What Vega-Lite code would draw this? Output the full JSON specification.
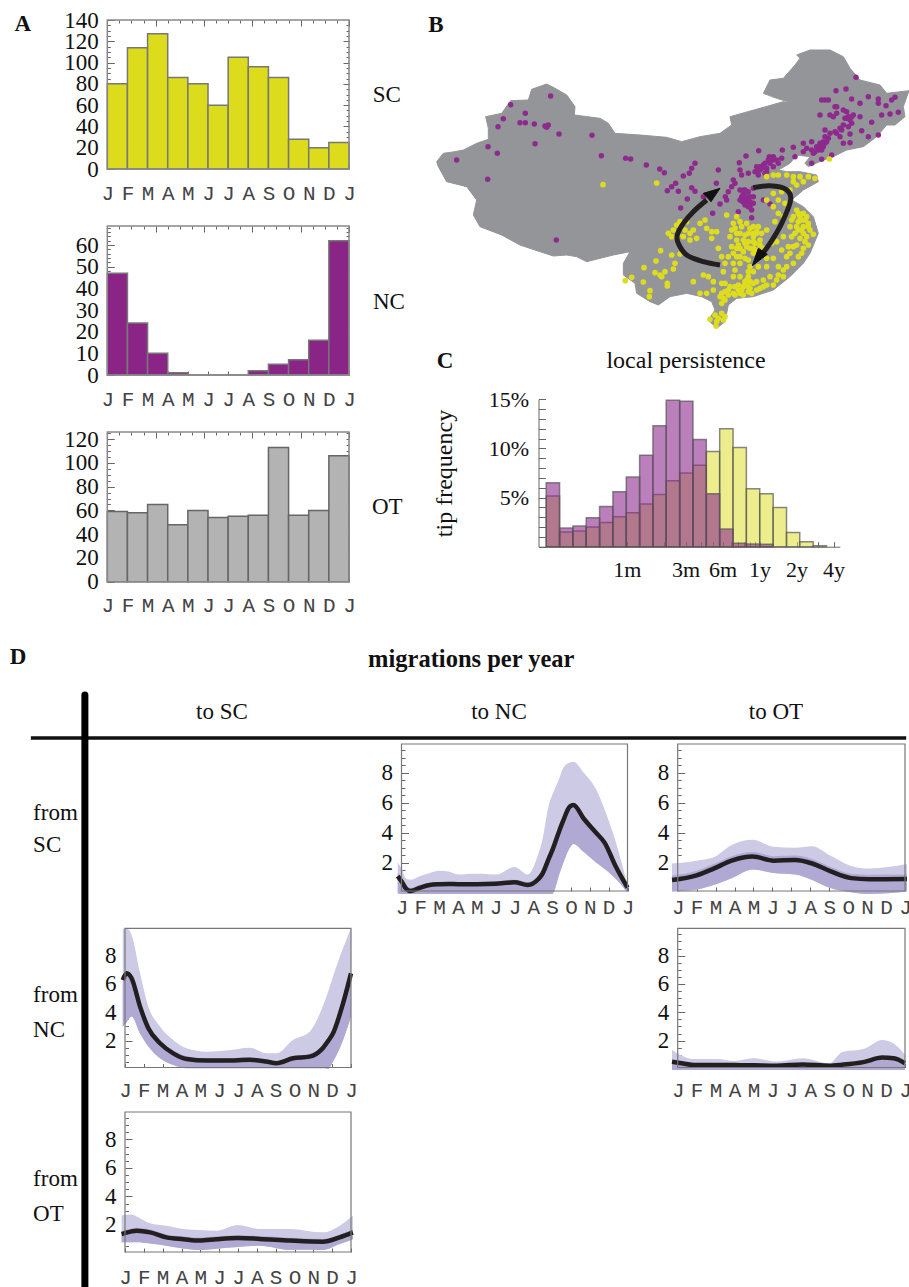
{"$schema":"https://vega.github.io/schema/vega-lite/v6.json","width":909,"height":1287,"autosize":{"type":"none"},"padding":0,"background":"white",
"config":{"view":{"stroke":null},"axis":{"grid":false,"labelOverlap":false,"labelColor":"#111","tickColor":"#666","domainColor":"#666","tickWidth":1},"axisX":{"labelFont":"Liberation Mono","labelFontSize":21,"labelColor":"#444","labelFlush":false,"labelPadding":17,"tickSize":-4,"domain":false},"axisY":{"labelFont":"Liberation Serif","labelFontSize":23,"labelPadding":16,"tickSize":-7,"domain":false,"labelFlush":false},"text":{"font":"Liberation Serif","fontSize":23,"color":"#111"}},
"resolve":{"scale":{"x":"independent","y":"independent"},"axis":{"x":"independent","y":"independent"}},
"datasets":{
"a_sc":[{"m0":0,"m1":1,"n":80},{"m0":1,"m1":2,"n":114},{"m0":2,"m1":3,"n":127},{"m0":3,"m1":4,"n":86},{"m0":4,"m1":5,"n":80},{"m0":5,"m1":6,"n":60},{"m0":6,"m1":7,"n":105},{"m0":7,"m1":8,"n":96},{"m0":8,"m1":9,"n":86},{"m0":9,"m1":10,"n":28},{"m0":10,"m1":11,"n":20},{"m0":11,"m1":12,"n":25}],
"a_nc":[{"m0":0,"m1":1,"n":47},{"m0":1,"m1":2,"n":24},{"m0":2,"m1":3,"n":10},{"m0":3,"m1":4,"n":1},{"m0":4,"m1":5,"n":0},{"m0":5,"m1":6,"n":0},{"m0":6,"m1":7,"n":0},{"m0":7,"m1":8,"n":2},{"m0":8,"m1":9,"n":5},{"m0":9,"m1":10,"n":7},{"m0":10,"m1":11,"n":16},{"m0":11,"m1":12,"n":62}],
"a_ot":[{"m0":0,"m1":1,"n":59},{"m0":1,"m1":2,"n":58},{"m0":2,"m1":3,"n":65},{"m0":3,"m1":4,"n":48},{"m0":4,"m1":5,"n":60},{"m0":5,"m1":6,"n":54},{"m0":6,"m1":7,"n":55},{"m0":7,"m1":8,"n":56},{"m0":8,"m1":9,"n":113},{"m0":9,"m1":10,"n":56},{"m0":10,"m1":11,"n":60},{"m0":11,"m1":12,"n":106}],
"frame_a1":[{"x0":0,"x1":12,"y0":0,"y1":140}],"frame_a2":[{"x0":0,"x1":12,"y0":0,"y1":68.8}],"frame_a3":[{"x0":0,"x1":12,"y0":0,"y1":126}],"frame_d":[{"x0":0,"x1":12,"y0":0.1,"y1":9.93}],
"pers_sc":[{"m0":0.2207,"m1":0.2834,"p":5.15},{"m0":0.2834,"m1":0.364,"p":1.5},{"m0":0.364,"m1":0.467,"p":1.6},{"m0":0.467,"m1":0.6,"p":2},{"m0":0.6,"m1":0.77,"p":2.45},{"m0":0.77,"m1":0.989,"p":3.05},{"m0":0.989,"m1":1.27,"p":3.45},{"m0":1.27,"m1":1.63,"p":4.35},{"m0":1.63,"m1":2.09,"p":5.3},{"m0":2.09,"m1":2.69,"p":6.7},{"m0":2.69,"m1":3.45,"p":7.5},{"m0":3.45,"m1":4.43,"p":8.3},{"m0":4.43,"m1":5.69,"p":9.7},{"m0":5.69,"m1":7.31,"p":12},{"m0":7.31,"m1":9.38,"p":10.1},{"m0":9.38,"m1":12.05,"p":5.9},{"m0":12.05,"m1":15.5,"p":5.4},{"m0":15.5,"m1":19.9,"p":4},{"m0":19.9,"m1":25.5,"p":1.45},{"m0":25.5,"m1":32.8,"p":0.5},{"m0":32.8,"m1":42.1,"p":0.1}],
"pers_nc":[{"m0":0.2207,"m1":0.2834,"p":6.5},{"m0":0.2834,"m1":0.364,"p":1.9},{"m0":0.364,"m1":0.467,"p":2.1},{"m0":0.467,"m1":0.6,"p":2.95},{"m0":0.6,"m1":0.77,"p":4.1},{"m0":0.77,"m1":0.989,"p":5.6},{"m0":0.989,"m1":1.27,"p":7.1},{"m0":1.27,"m1":1.63,"p":9.3},{"m0":1.63,"m1":2.09,"p":12.3},{"m0":2.09,"m1":2.69,"p":14.9},{"m0":2.69,"m1":3.45,"p":14.8},{"m0":3.45,"m1":4.43,"p":10.9},{"m0":4.43,"m1":5.69,"p":5.4},{"m0":5.69,"m1":7.31,"p":1.8},{"m0":7.31,"m1":9.38,"p":0.35},{"m0":9.38,"m1":12.05,"p":0.27},{"m0":12.05,"m1":15.5,"p":0.25}],
"sc_nc":[{"t":-0.2,"hi":2,"ih":1.3,"lo":-0.05,"v":1.1},{"t":0,"hi":1.6,"ih":1,"lo":-0.1,"v":0.75},{"t":0.25,"hi":0.9,"ih":0.5,"lo":-0.1,"v":0.25},{"t":0.5,"hi":0.85,"ih":0.3,"lo":-0.1,"v":0.1},{"t":1,"hi":1.1,"ih":0.5,"lo":-0.1,"v":0.33},{"t":1.5,"hi":1.3,"ih":0.65,"lo":-0.1,"v":0.5},{"t":2,"hi":1.45,"ih":0.7,"lo":-0.1,"v":0.55},{"t":2.5,"hi":1.4,"ih":0.7,"lo":-0.1,"v":0.57},{"t":3,"hi":1.2,"ih":0.7,"lo":-0.1,"v":0.55},{"t":4,"hi":1.25,"ih":0.7,"lo":-0.1,"v":0.55},{"t":5,"hi":1.2,"ih":0.75,"lo":-0.1,"v":0.58},{"t":6,"hi":1.7,"ih":0.85,"lo":-0.1,"v":0.68},{"t":6.7,"hi":1.2,"ih":0.7,"lo":-0.1,"v":0.5},{"t":7.27,"hi":2.6,"ih":1.1,"lo":-0.1,"v":0.9},{"t":7.46,"hi":3.4,"ih":1.4,"lo":-0.1,"v":1.2},{"t":7.83,"hi":5.9,"ih":2.5,"lo":-0.1,"v":2.3},{"t":8,"hi":6.5,"ih":3,"lo":-0.1,"v":2.8},{"t":8.4,"hi":7.7,"ih":4.4,"lo":1.3,"v":4.2},{"t":8.57,"hi":8.3,"ih":4.9,"lo":1.9,"v":4.75},{"t":8.94,"hi":8.7,"ih":5.85,"lo":3,"v":5.75},{"t":9.13,"hi":8.74,"ih":5.95,"lo":3.25,"v":5.85},{"t":9.68,"hi":8,"ih":5.05,"lo":2.7,"v":4.93},{"t":10.33,"hi":6.9,"ih":4.1,"lo":2,"v":4},{"t":10.8,"hi":5.5,"ih":3.4,"lo":1.55,"v":3.3},{"t":11.35,"hi":3.5,"ih":1.9,"lo":0.95,"v":1.8},{"t":12,"hi":0.5,"ih":0.4,"lo":0,"v":0.33}],
"sc_ot":[{"t":-0.3,"hi":1.94,"ih":1.14,"lo":0.07,"v":0.84},{"t":1,"hi":2.13,"ih":1.45,"lo":0.2,"v":1.15},{"t":1.9,"hi":2.36,"ih":1.9,"lo":0.5,"v":1.6},{"t":2.85,"hi":3.18,"ih":2.43,"lo":0.96,"v":2.13},{"t":3.96,"hi":3.53,"ih":2.7,"lo":1.54,"v":2.4},{"t":5.07,"hi":3.06,"ih":2.43,"lo":1.3,"v":2.13},{"t":6.2,"hi":3,"ih":2.47,"lo":1.2,"v":2.17},{"t":7.1,"hi":3.1,"ih":2.24,"lo":0.84,"v":1.94},{"t":8.05,"hi":2.48,"ih":1.73,"lo":0.3,"v":1.43},{"t":9.16,"hi":1.78,"ih":1.26,"lo":0.02,"v":0.96},{"t":10.1,"hi":1.6,"ih":1.19,"lo":-0.1,"v":0.89},{"t":12.1,"hi":1.9,"ih":1.2,"lo":0.07,"v":0.9}],
"nc_sc":[{"t":-0.12,"hi":9.9,"ih":6.4,"lo":3,"v":6.28},{"t":0.09,"hi":9.93,"ih":6.9,"lo":3.3,"v":6.75},{"t":0.35,"hi":9.46,"ih":6.6,"lo":3.7,"v":6.4},{"t":0.8,"hi":6.75,"ih":4.6,"lo":2.5,"v":4.4},{"t":1.24,"hi":4.4,"ih":3.1,"lo":1.58,"v":2.87},{"t":1.86,"hi":3,"ih":2,"lo":0.75,"v":1.81},{"t":2.56,"hi":2.05,"ih":1.3,"lo":0.28,"v":1.1},{"t":3.27,"hi":1.46,"ih":0.9,"lo":0.05,"v":0.7},{"t":4.33,"hi":1.22,"ih":0.75,"lo":0.05,"v":0.59},{"t":5.39,"hi":1.3,"ih":0.75,"lo":0.05,"v":0.59},{"t":6.63,"hi":1.5,"ih":0.8,"lo":0.05,"v":0.64},{"t":7.5,"hi":1.1,"ih":0.65,"lo":0.05,"v":0.52},{"t":8.04,"hi":1.1,"ih":0.55,"lo":0.05,"v":0.4},{"t":8.92,"hi":2.05,"ih":0.9,"lo":0.05,"v":0.75},{"t":9.8,"hi":2.63,"ih":1.05,"lo":0.05,"v":0.87},{"t":10.5,"hi":4.4,"ih":1.7,"lo":0.05,"v":1.46},{"t":10.8,"hi":5.5,"ih":2.2,"lo":0,"v":2},{"t":11.04,"hi":6.5,"ih":2.7,"lo":0.5,"v":2.5},{"t":11.57,"hi":8.5,"ih":4.8,"lo":2,"v":4.6},{"t":12,"hi":9.93,"ih":6.9,"lo":3.7,"v":6.75}],
"nc_ot":[{"t":-0.3,"hi":1.34,"ih":0.6,"lo":-0.07,"v":0.5},{"t":0.12,"hi":1,"ih":0.5,"lo":-0.07,"v":0.42},{"t":0.83,"hi":0.7,"ih":0.38,"lo":-0.07,"v":0.28},{"t":2.1,"hi":0.7,"ih":0.38,"lo":-0.07,"v":0.28},{"t":3,"hi":0.56,"ih":0.38,"lo":-0.07,"v":0.27},{"t":4,"hi":0.75,"ih":0.36,"lo":-0.07,"v":0.26},{"t":5.2,"hi":0.52,"ih":0.33,"lo":-0.07,"v":0.23},{"t":6.6,"hi":0.75,"ih":0.42,"lo":-0.07,"v":0.32},{"t":8,"hi":0.4,"ih":0.33,"lo":-0.07,"v":0.23},{"t":8.7,"hi":1.2,"ih":0.4,"lo":-0.07,"v":0.3},{"t":9.8,"hi":1.4,"ih":0.58,"lo":-0.07,"v":0.48},{"t":10.8,"hi":2.05,"ih":0.9,"lo":-0.07,"v":0.8},{"t":11.4,"hi":1.8,"ih":0.85,"lo":-0.07,"v":0.75},{"t":12,"hi":1,"ih":0.5,"lo":-0.07,"v":0.4}],
"ot_sc":[{"t":-0.18,"hi":2.66,"ih":1.56,"lo":0.78,"v":1.36},{"t":0.35,"hi":2.73,"ih":1.75,"lo":0.78,"v":1.55},{"t":0.62,"hi":2.6,"ih":1.8,"lo":0.78,"v":1.6},{"t":1.33,"hi":2.12,"ih":1.68,"lo":0.7,"v":1.48},{"t":2.2,"hi":1.95,"ih":1.33,"lo":0.54,"v":1.13},{"t":3.1,"hi":1.72,"ih":1.2,"lo":0.35,"v":1},{"t":3.97,"hi":1.65,"ih":1.1,"lo":0.24,"v":0.9},{"t":4.86,"hi":1.6,"ih":1.2,"lo":0.33,"v":1},{"t":6,"hi":2,"ih":1.28,"lo":0.45,"v":1.08},{"t":7.15,"hi":1.72,"ih":1.22,"lo":0.54,"v":1.02},{"t":8.75,"hi":1.72,"ih":1.1,"lo":0.25,"v":0.9},{"t":10.5,"hi":1.48,"ih":1.02,"lo":0.24,"v":0.82},{"t":11.4,"hi":1.95,"ih":1.33,"lo":0.66,"v":1.13},{"t":12.1,"hi":2.66,"ih":1.68,"lo":1,"v":1.48}],
"china":[{"type":"Feature","properties":{"name":"China"},"geometry":{"type":"Polygon","coordinates":[[[73,40.1],[73.8,41.1],[75.2,41.3],[76.2,41.5],[77.8,42.3],[79.2,42.78],[79.2,44.1],[78.88,45.5],[80.8,45.9],[81.88,47.42],[84,47.5],[84.4,48.78],[86.2,49.42],[87,49.02],[88.6,48.1],[89.6,46.7],[89.52,45.7],[92.6,45.3],[93.6,44.7],[94.4,43.5],[97.4,43.3],[100.6,43.02],[102.4,42.5],[104.6,43.1],[107,43.5],[108.4,44.5],[108.2,45.5],[111.8,46.5],[114.6,47.3],[115.8,47.1],[113.8,47.7],[112.2,48.3],[113,49.9],[114.6,50.1],[116,51.7],[116.6,52.5],[116.2,52.9],[117.8,53.5],[120.2,53.5],[121.8,52.7],[122.6,51.3],[123.8,49.9],[126.2,49.3],[127,48.3],[129.68,48.62],[129,46.7],[129.2,45.5],[128,44.5],[127,44.5],[125.8,43.1],[124.2,41.9],[122.2,41.5],[120.6,40.7],[119.4,40.3],[117.6,39.5],[117.2,39.9],[117.8,40.7],[116.2,40.9],[115.4,39.9],[114,39.1],[115,38.9],[116.6,38.9],[118.6,38.5],[118.8,37.7],[117,36.7],[115.6,35.5],[117,34.7],[118.2,33.5],[118.8,31.5],[117.8,29.1],[117,27.9],[115.4,26.3],[113.4,24.7],[111,23.9],[109,23.7],[108,22.9],[107.8,21.9],[107.6,20.9],[106.6,20.1],[105.6,21.1],[106.4,22.3],[106,23.3],[104.8,23.9],[103,24.3],[101,23.9],[99.6,22.9],[98.6,23.3],[97,24.3],[96.8,25.5],[95.4,26.5],[95.4,27.9],[96.2,29.3],[94.2,28.9],[91,28.1],[89.8,28.7],[88.6,28.9],[87,28.78],[85.4,29.3],[83,30.1],[80.8,31.3],[78.2,32.3],[77.4,33.7],[77.8,35.5],[76.6,37.1],[74.2,37.7],[73.2,39.5],[73,40.1]]]}}],
"heads":[{"type":"Feature","properties":{"name":"to NC"},"geometry":{"type":"Polygon","coordinates":[[[107,36.9],[105.92,35.3],[105,36.3],[107,36.9]]]}},{"type":"Feature","properties":{"name":"to SC"},"geometry":{"type":"Polygon","coordinates":[[[110.88,27.62],[111.6,29.7],[112.68,28.98],[110.88,27.62]]]}}],
"arrows":[{"arrow":"a","i":0,"lon":107,"lat":27.7},{"arrow":"a","i":1,"lon":105,"lat":28.1},{"arrow":"a","i":2,"lon":103,"lat":28.9},{"arrow":"a","i":3,"lon":102,"lat":30.3},{"arrow":"a","i":4,"lon":101.88,"lat":31.3},{"arrow":"a","i":5,"lon":102.6,"lat":32.7},{"arrow":"a","i":6,"lon":103.8,"lat":34.1},{"arrow":"a","i":7,"lon":105.4,"lat":35.5},{"arrow":"b","i":0,"lon":111,"lat":36.98},{"arrow":"b","i":1,"lon":113,"lat":37.22},{"arrow":"b","i":2,"lon":114.92,"lat":36.78},{"arrow":"b","i":3,"lon":115.48,"lat":35.5},{"arrow":"b","i":4,"lon":114.4,"lat":32.7},{"arrow":"b","i":5,"lon":113,"lat":30.3},{"arrow":"b","i":6,"lon":111.8,"lat":28.7}],
"pts_nc":[{"lon":86.68,"lat":47.98},{"lon":81.88,"lat":46.94},{"lon":83.64,"lat":45.9},{"lon":81,"lat":45.26},{"lon":80.36,"lat":44.3},{"lon":83,"lat":44.78},{"lon":83.64,"lat":44.78},{"lon":84.72,"lat":44.62},{"lon":86,"lat":44.38},{"lon":86.4,"lat":44.5},{"lon":86.2,"lat":44.22},{"lon":87.68,"lat":43.42},{"lon":91.64,"lat":43.26},{"lon":84.8,"lat":42.26},{"lon":79.16,"lat":41.9},{"lon":80.28,"lat":41.1},{"lon":75.4,"lat":40.3},{"lon":79.12,"lat":37.98},{"lon":92.76,"lat":40.82},{"lon":95.68,"lat":40.5},{"lon":96.28,"lat":40.42},{"lon":98.16,"lat":39.7},{"lon":99.76,"lat":39.22},{"lon":100.32,"lat":38.78},{"lon":104,"lat":39.9},{"lon":103.6,"lat":39.3},{"lon":103.32,"lat":38.7},{"lon":102.6,"lat":38.38},{"lon":106.8,"lat":39.1},{"lon":87.36,"lat":30.7},{"lon":100.68,"lat":36.62},{"lon":101.2,"lat":37.1},{"lon":101.68,"lat":37.5},{"lon":102,"lat":36.54},{"lon":103.6,"lat":36.98},{"lon":104,"lat":36.54},{"lon":103.08,"lat":35.62},{"lon":102.28,"lat":34.54},{"lon":106.56,"lat":37.5},{"lon":105,"lat":35.9},{"lon":106.12,"lat":33.9},{"lon":107,"lat":35.02},{"lon":107.64,"lat":35.9},{"lon":107.8,"lat":35.5},{"lon":108.6,"lat":37.9},{"lon":108.4,"lat":37.1},{"lon":108,"lat":36.5},{"lon":109.32,"lat":39.98},{"lon":110.12,"lat":40.78},{"lon":111.64,"lat":41.42},{"lon":109.4,"lat":39.1},{"lon":109.6,"lat":38.5},{"lon":110.4,"lat":38.7},{"lon":111.2,"lat":38.9},{"lon":111.8,"lat":39.1},{"lon":112.2,"lat":39.7},{"lon":112.8,"lat":40.3},{"lon":113.4,"lat":40.7},{"lon":113,"lat":39.9},{"lon":112.4,"lat":38.7},{"lon":111.6,"lat":38.5},{"lon":113.4,"lat":39.5},{"lon":114,"lat":39.9},{"lon":114.4,"lat":40.5},{"lon":114.48,"lat":41.5},{"lon":115.8,"lat":41.82},{"lon":116,"lat":40.7},{"lon":117,"lat":42.3},{"lon":117.4,"lat":41.7},{"lon":118,"lat":42.5},{"lon":118.6,"lat":41.9},{"lon":119.2,"lat":41.5},{"lon":119.6,"lat":42.3},{"lon":120,"lat":42.9},{"lon":119.6,"lat":43.9},{"lon":120.8,"lat":43.7},{"lon":121.8,"lat":44.5},{"lon":122.6,"lat":45.1},{"lon":123,"lat":45.7},{"lon":122.2,"lat":46.1},{"lon":121,"lat":46.7},{"lon":120.2,"lat":45.7},{"lon":119,"lat":45.7},{"lon":119.6,"lat":47.5},{"lon":120.92,"lat":48.62},{"lon":122.12,"lat":48.82},{"lon":122.8,"lat":47.62},{"lon":123.32,"lat":50.22},{"lon":123.8,"lat":47.1},{"lon":124.8,"lat":47.9},{"lon":126,"lat":47.62},{"lon":126,"lat":47.1},{"lon":126.92,"lat":46.82},{"lon":128,"lat":47.82},{"lon":127.6,"lat":47.5},{"lon":126.4,"lat":45.7},{"lon":127.4,"lat":45.82},{"lon":128.4,"lat":46.02},{"lon":125.2,"lat":44.82},{"lon":123.8,"lat":45.5},{"lon":124,"lat":43.82},{"lon":124.8,"lat":43.1},{"lon":126,"lat":43.3},{"lon":122.6,"lat":42.38},{"lon":121.8,"lat":42.3},{"lon":122.6,"lat":43.42},{"lon":121.4,"lat":43.1},{"lon":120.4,"lat":40.9},{"lon":120.2,"lat":43.5},{"lon":118.8,"lat":41.5},{"lon":118,"lat":39.9},{"lon":119.2,"lat":40.38},{"lon":120.6,"lat":45.5},{"lon":121,"lat":45.9},{"lon":121.8,"lat":46.3},{"lon":122.4,"lat":45.5},{"lon":122.8,"lat":44.7},{"lon":122,"lat":45.3},{"lon":121.4,"lat":44.1},{"lon":122.4,"lat":44.3},{"lon":121,"lat":43.5},{"lon":119.6,"lat":43.1},{"lon":118,"lat":41.5},{"lon":119,"lat":42.3},{"lon":118.2,"lat":41.1},{"lon":119.4,"lat":41.9},{"lon":119.8,"lat":42.5},{"lon":109.4,"lat":36.7},{"lon":109.8,"lat":36.3},{"lon":110.2,"lat":35.9},{"lon":110.6,"lat":35.3},{"lon":110,"lat":35.5},{"lon":109.6,"lat":35.9},{"lon":110.4,"lat":34.7},{"lon":110.8,"lat":34.3},{"lon":111,"lat":35.9},{"lon":109.2,"lat":34.1},{"lon":110.8,"lat":33.38},{"lon":112.2,"lat":35.5},{"lon":113,"lat":35.02},{"lon":111,"lat":36.9},{"lon":112.6,"lat":39.3},{"lon":112,"lat":39.3},{"lon":108.8,"lat":37.5},{"lon":111.4,"lat":39.5},{"lon":112.92,"lat":40.7},{"lon":113.12,"lat":40.38},{"lon":109.88,"lat":36.7},{"lon":110.4,"lat":36.5},{"lon":110.6,"lat":35.9},{"lon":109.72,"lat":35.3},{"lon":110.2,"lat":35.1},{"lon":111,"lat":35.1},{"lon":113.4,"lat":40.3},{"lon":113.8,"lat":40.3},{"lon":110,"lat":36.7},{"lon":109.4,"lat":35.5},{"lon":110.4,"lat":35.5},{"lon":110,"lat":34.9},{"lon":110.6,"lat":34.7},{"lon":111.8,"lat":39.5},{"lon":112.4,"lat":39.9},{"lon":113,"lat":40.5},{"lon":111.6,"lat":39.1},{"lon":112.6,"lat":38.9},{"lon":119,"lat":41.9},{"lon":119.4,"lat":42.5},{"lon":118.4,"lat":41.3},{"lon":117,"lat":41.3},{"lon":122.2,"lat":45.3},{"lon":122.8,"lat":45.5},{"lon":121.6,"lat":43.9},{"lon":120.8,"lat":46.7},{"lon":120,"lat":47.5},{"lon":119.2,"lat":47.5}],
"pts_sc":[{"lon":92.96,"lat":37.34},{"lon":99.4,"lat":37.54},{"lon":120.12,"lat":40.42},{"lon":113.4,"lat":38.5},{"lon":114,"lat":38.5},{"lon":115,"lat":38.5},{"lon":115.8,"lat":38.3},{"lon":116.6,"lat":38.3},{"lon":117.6,"lat":38.3},{"lon":118.4,"lat":38.1},{"lon":117,"lat":37.7},{"lon":116.2,"lat":37.3},{"lon":115.4,"lat":36.7},{"lon":114.4,"lat":36.5},{"lon":113.4,"lat":36.3},{"lon":112.6,"lat":35.5},{"lon":114,"lat":35.5},{"lon":114.8,"lat":35.1},{"lon":112.6,"lat":38.3},{"lon":115.8,"lat":37.7},{"lon":100.8,"lat":31.5},{"lon":101.4,"lat":31.9},{"lon":101.8,"lat":32.5},{"lon":102.2,"lat":32.9},{"lon":101.2,"lat":31.1},{"lon":102,"lat":31.3},{"lon":102.6,"lat":31.1},{"lon":103.4,"lat":31.5},{"lon":103.8,"lat":31.9},{"lon":104.2,"lat":30.9},{"lon":103.4,"lat":30.7},{"lon":102.8,"lat":31.9},{"lon":104.6,"lat":32.7},{"lon":105.2,"lat":33.1},{"lon":105.4,"lat":32.1},{"lon":106,"lat":31.7},{"lon":106.6,"lat":31.7},{"lon":106,"lat":30.9},{"lon":103,"lat":32.9},{"lon":107.8,"lat":33.7},{"lon":109,"lat":33.5},{"lon":108.6,"lat":32.7},{"lon":108.4,"lat":31.9},{"lon":108.2,"lat":31.1},{"lon":109,"lat":31.5},{"lon":109.6,"lat":32.3},{"lon":110.2,"lat":32.7},{"lon":111,"lat":32.3},{"lon":111.6,"lat":32.3},{"lon":110.4,"lat":31.5},{"lon":111,"lat":31.1},{"lon":109.8,"lat":30.7},{"lon":109,"lat":30.7},{"lon":112,"lat":31.5},{"lon":112.6,"lat":31.9},{"lon":111.8,"lat":30.7},{"lon":111.2,"lat":30.3},{"lon":110.2,"lat":29.9},{"lon":109.4,"lat":29.7},{"lon":108.6,"lat":29.1},{"lon":108,"lat":28.7},{"lon":109,"lat":28.7},{"lon":109.8,"lat":29.3},{"lon":110.6,"lat":29.7},{"lon":111.4,"lat":29.5},{"lon":112.2,"lat":29.7},{"lon":106.8,"lat":29.7},{"lon":107.2,"lat":28.7},{"lon":107.6,"lat":27.9},{"lon":108.6,"lat":27.9},{"lon":109.4,"lat":27.9},{"lon":110.4,"lat":28.3},{"lon":111,"lat":29.1},{"lon":113.4,"lat":34.7},{"lon":114,"lat":33.9},{"lon":113.6,"lat":32.9},{"lon":114.6,"lat":33.5},{"lon":115.6,"lat":33.1},{"lon":116.2,"lat":34.3},{"lon":117,"lat":33.9},{"lon":116.8,"lat":33.1},{"lon":116.2,"lat":32.3},{"lon":115.4,"lat":32.3},{"lon":116,"lat":31.5},{"lon":116.8,"lat":31.9},{"lon":117.6,"lat":32.3},{"lon":118.2,"lat":31.38},{"lon":117.4,"lat":31.1},{"lon":116.6,"lat":30.9},{"lon":115.6,"lat":31.1},{"lon":114.6,"lat":31.1},{"lon":113.8,"lat":30.5},{"lon":113.2,"lat":30.3},{"lon":114.4,"lat":29.5},{"lon":115,"lat":28.7},{"lon":115.8,"lat":29.9},{"lon":117,"lat":29.7},{"lon":117.6,"lat":30.1},{"lon":116.4,"lat":28.7},{"lon":115.8,"lat":27.9},{"lon":115,"lat":27.5},{"lon":114.6,"lat":26.3},{"lon":114,"lat":27.5},{"lon":113.4,"lat":28.5},{"lon":112.6,"lat":28.5},{"lon":112.6,"lat":27.5},{"lon":111,"lat":26.9},{"lon":111.6,"lat":27.5},{"lon":113,"lat":26.3},{"lon":113.8,"lat":25.9},{"lon":112.6,"lat":25.3},{"lon":111.8,"lat":24.9},{"lon":111,"lat":25.5},{"lon":110.4,"lat":26.9},{"lon":110.2,"lat":25.9},{"lon":109.4,"lat":26.3},{"lon":108.6,"lat":26.3},{"lon":107.4,"lat":26.9},{"lon":105,"lat":26.5},{"lon":105.6,"lat":26.3},{"lon":106.2,"lat":25.7},{"lon":107.2,"lat":25.5},{"lon":108.2,"lat":25.1},{"lon":109.2,"lat":24.7},{"lon":110.4,"lat":25.1},{"lon":109.8,"lat":24.1},{"lon":108.6,"lat":24.3},{"lon":107.6,"lat":24.5},{"lon":107,"lat":23.9},{"lon":106.2,"lat":24.7},{"lon":105.4,"lat":24.3},{"lon":104.6,"lat":24.3},{"lon":107.2,"lat":23.1},{"lon":107.6,"lat":23.5},{"lon":103.8,"lat":25.7},{"lon":111.4,"lat":25.7},{"lon":112.2,"lat":25.9},{"lon":110.4,"lat":24.5},{"lon":110.8,"lat":24.3},{"lon":107.2,"lat":21.9},{"lon":107.6,"lat":21.5},{"lon":106.4,"lat":21.7},{"lon":106.8,"lat":21.3},{"lon":105.8,"lat":21.18},{"lon":106.6,"lat":20.9},{"lon":107.4,"lat":21.1},{"lon":106.52,"lat":20.38},{"lon":99.88,"lat":29.42},{"lon":101.2,"lat":28.9},{"lon":102.2,"lat":29.02},{"lon":99.32,"lat":28.18},{"lon":101.6,"lat":27.9},{"lon":101.4,"lat":27.22},{"lon":97.88,"lat":27.38},{"lon":99.2,"lat":26.78},{"lon":99.8,"lat":26.5},{"lon":100.4,"lat":26.9},{"lon":100,"lat":26.3},{"lon":100.68,"lat":25.5},{"lon":100.68,"lat":25.18},{"lon":97.8,"lat":25.66},{"lon":95.64,"lat":25.82},{"lon":96.4,"lat":26.22},{"lon":98.6,"lat":24.62},{"lon":98.52,"lat":23.9},{"lon":116.6,"lat":33.5},{"lon":117.2,"lat":33.1},{"lon":117.6,"lat":32.7},{"lon":116.4,"lat":32.9},{"lon":117,"lat":32.3},{"lon":111,"lat":31.5},{"lon":109.4,"lat":31.5},{"lon":111.4,"lat":31.5},{"lon":110.4,"lat":30.5},{"lon":111,"lat":29.7},{"lon":109,"lat":29.7},{"lon":110,"lat":28.5},{"lon":109.8,"lat":25.1},{"lon":108.8,"lat":25.1},{"lon":109.4,"lat":24.3},{"lon":108,"lat":24.1},{"lon":110,"lat":25.7},{"lon":115.8,"lat":33.5},{"lon":116.4,"lat":33.9},{"lon":117.4,"lat":33.5},{"lon":117.8,"lat":31.9},{"lon":117,"lat":31.5},{"lon":116.4,"lat":31.9},{"lon":117.2,"lat":30.5},{"lon":116.2,"lat":30.1},{"lon":116.8,"lat":29.1},{"lon":115.4,"lat":29.1},{"lon":115.2,"lat":29.9},{"lon":108.8,"lat":32.1},{"lon":109.4,"lat":32.9},{"lon":110.6,"lat":32.1},{"lon":111.4,"lat":31.7},{"lon":110,"lat":31.3},{"lon":109.2,"lat":30.1},{"lon":111,"lat":30.5},{"lon":110,"lat":30.3},{"lon":111.8,"lat":30.1},{"lon":108.4,"lat":29.9},{"lon":109.4,"lat":28.7},{"lon":111.8,"lat":28.7},{"lon":108.8,"lat":27.1},{"lon":110.6,"lat":27.5},{"lon":107.6,"lat":25.5},{"lon":108,"lat":24.7},{"lon":108.8,"lat":24.1},{"lon":109.6,"lat":24.7},{"lon":110,"lat":25.3},{"lon":110.6,"lat":24.9},{"lon":111.4,"lat":24.7},{"lon":112.2,"lat":25.1},{"lon":113.4,"lat":25.3},{"lon":114,"lat":26.5},{"lon":114.6,"lat":27.1},{"lon":107.2,"lat":24.3},{"lon":107.4,"lat":23.7},{"lon":109.2,"lat":25.3},{"lon":110.6,"lat":25.7},{"lon":110.4,"lat":26.3}]
},
"layer":[
{"data":{"name":"a_sc"},"mark":{"type":"rect","fill":"#dddc1c","stroke":"#777","strokeWidth":1.5},"encoding":{"x":{"field":"m0","type":"quantitative","scale":{"domain":[0,12],"range":[107.3,349],"nice":false},"axis":{"title":null,"orient":"bottom","offset":-1118,"values":[0,1,2,3,4,5,6,7,8,9,10,11,12],"labelExpr":"['J','F','M','A','M','J','J','A','S','O','N','D','J'][datum.value]"}},"x2":{"field":"m1"},"y":{"field":"n","type":"quantitative","scale":{"domain":[0,140],"range":[169,20],"nice":false},"axis":{"title":null,"orient":"left","offset":-107.3,"values":[0,20,40,60,80,100,120,140]}},"y2":{"datum":0}}},
{"data":{"name":"frame_a1"},"mark":{"type":"rect","fillOpacity":0,"stroke":"#888","strokeWidth":1.5},"encoding":{"x":{"field":"x0","type":"quantitative","scale":{"domain":[0,12],"range":[107.3,349],"nice":false},"axis":{"title":null,"orient":"top","offset":-20,"labels":false,"tickSize":-3,"values":[0,0.6,1.2,1.8,2.4,3,3.6,4.2,4.8,5.4,6,6.6,7.2,7.8,8.4,9,9.6,10.2,10.8,11.4,12]}},"x2":{"field":"x1"},"y":{"field":"y0","type":"quantitative","scale":{"domain":[0,140],"range":[169,20],"nice":false},"axis":{"title":null,"orient":"right","offset":-560,"labels":false,"tickSize":-3,"values":[5,10,15,20,25,30,35,40,45,50,55,60,65,70,75,80,85,90,95,100,105,110,115,120,125,130,135]}},"y2":{"field":"y1"}}},
{"data":{"name":"frame_a1"},"mark":{"type":"point","opacity":0},"encoding":{"x":{"field":"x0","type":"quantitative","scale":{"domain":[0,12],"range":[107.3,349],"nice":false},"axis":{"title":null,"orient":"top","offset":-20,"labels":false,"tickSize":-6,"values":[0,2.4,4.8,7.2,9.6,12]}},"y":{"field":"y0","type":"quantitative","scale":{"domain":[0,140],"range":[169,20],"nice":false},"axis":{"title":null,"orient":"left","offset":-107.3,"labels":false,"tickSize":-3,"values":[5,10,15,25,30,35,45,50,55,65,70,75,85,90,95,105,110,115,125,130,135]}}}},
{"data":{"name":"frame_a1"},"mark":{"type":"point","opacity":0},"encoding":{"x":{"field":"x0","type":"quantitative","scale":{"domain":[0,12],"range":[107.3,349],"nice":false},"axis":null},"y":{"field":"y0","type":"quantitative","scale":{"domain":[0,140],"range":[169,20],"nice":false},"axis":{"title":null,"orient":"right","offset":-560,"labels":false,"tickSize":-6,"values":[20,40,60,80,100,120]}}}},
{"data":{"values":[{"label":"SC","month":13.88,"count":69.5}]},"mark":{"type":"text"},"encoding":{"x":{"field":"month","type":"quantitative","scale":{"domain":[0,12],"range":[107.3,349],"nice":false},"axis":null},"y":{"field":"count","type":"quantitative","scale":{"domain":[0,140],"range":[169,20],"nice":false},"axis":null},"text":{"field":"label"}}},
{"data":{"values":[{"label":"A","month":-4.2,"count":136}]},"mark":{"type":"text","fontWeight":"bold"},"encoding":{"x":{"field":"month","type":"quantitative","scale":{"domain":[0,12],"range":[107.3,349],"nice":false},"axis":null},"y":{"field":"count","type":"quantitative","scale":{"domain":[0,140],"range":[169,20],"nice":false},"axis":null},"text":{"field":"label"}}},

{"data":{"name":"a_nc"},"mark":{"type":"rect","fill":"#8a2587","stroke":"#777","strokeWidth":1.5},"encoding":{"x":{"field":"m0","type":"quantitative","scale":{"domain":[0,12],"range":[107.3,349],"nice":false},"axis":{"title":null,"orient":"bottom","offset":-912,"values":[0,1,2,3,4,5,6,7,8,9,10,11,12],"labelExpr":"['J','F','M','A','M','J','J','A','S','O','N','D','J'][datum.value]"}},"x2":{"field":"m1"},"y":{"field":"n","type":"quantitative","scale":{"domain":[0,68.8],"range":[375,226],"nice":false},"axis":{"title":null,"orient":"left","offset":-107.3,"values":[0,10,20,30,40,50,60]}},"y2":{"datum":0}}},
{"data":{"name":"frame_a2"},"mark":{"type":"rect","fillOpacity":0,"stroke":"#888","strokeWidth":1.5},"encoding":{"x":{"field":"x0","type":"quantitative","scale":{"domain":[0,12],"range":[107.3,349],"nice":false},"axis":{"title":null,"orient":"top","offset":-226,"labels":false,"tickSize":-3,"values":[0,0.6,1.2,1.8,2.4,3,3.6,4.2,4.8,5.4,6,6.6,7.2,7.8,8.4,9,9.6,10.2,10.8,11.4,12]}},"x2":{"field":"x1"},"y":{"field":"y0","type":"quantitative","scale":{"domain":[0,68.8],"range":[375,226],"nice":false},"axis":{"title":null,"orient":"right","offset":-560,"labels":false,"tickSize":-3,"values":[2,4,6,8,10,12,14,16,18,20,22,24,26,28,30,32,34,36,38,40,42,44,46,48,50,52,54,56,58,60,62,64,66,68]}},"y2":{"field":"y1"}}},
{"data":{"name":"frame_a2"},"mark":{"type":"point","opacity":0},"encoding":{"x":{"field":"x0","type":"quantitative","scale":{"domain":[0,12],"range":[107.3,349],"nice":false},"axis":{"title":null,"orient":"top","offset":-226,"labels":false,"tickSize":-6,"values":[0,2.4,4.8,7.2,9.6,12]}},"y":{"field":"y0","type":"quantitative","scale":{"domain":[0,68.8],"range":[375,226],"nice":false},"axis":{"title":null,"orient":"left","offset":-107.3,"labels":false,"tickSize":-3,"values":[2,4,6,8,12,14,16,18,22,24,26,28,32,34,36,38,42,44,46,48,52,54,56,58,62,64,66,68]}}}},
{"data":{"values":[{"label":"NC","month":13.98,"count":33.7}]},"mark":{"type":"text"},"encoding":{"x":{"field":"month","type":"quantitative","scale":{"domain":[0,12],"range":[107.3,349],"nice":false},"axis":null},"y":{"field":"count","type":"quantitative","scale":{"domain":[0,68.8],"range":[375,226],"nice":false},"axis":null},"text":{"field":"label"}}},

{"data":{"name":"a_ot"},"mark":{"type":"rect","fill":"#b3b3b3","stroke":"#666","strokeWidth":1.5},"encoding":{"x":{"field":"m0","type":"quantitative","scale":{"domain":[0,12],"range":[107.3,349],"nice":false},"axis":{"title":null,"orient":"bottom","offset":-705.3,"values":[0,1,2,3,4,5,6,7,8,9,10,11,12],"labelExpr":"['J','F','M','A','M','J','J','A','S','O','N','D','J'][datum.value]"}},"x2":{"field":"m1"},"y":{"field":"n","type":"quantitative","scale":{"domain":[0,126],"range":[581.7,432],"nice":false},"axis":{"title":null,"orient":"left","offset":-107.3,"values":[0,20,40,60,80,100,120]}},"y2":{"datum":0}}},
{"data":{"name":"frame_a3"},"mark":{"type":"rect","fillOpacity":0,"stroke":"#888","strokeWidth":1.5},"encoding":{"x":{"field":"x0","type":"quantitative","scale":{"domain":[0,12],"range":[107.3,349],"nice":false},"axis":{"title":null,"orient":"top","offset":-432,"labels":false,"tickSize":-3,"values":[0,0.6,1.2,1.8,2.4,3,3.6,4.2,4.8,5.4,6,6.6,7.2,7.8,8.4,9,9.6,10.2,10.8,11.4,12]}},"x2":{"field":"x1"},"y":{"field":"y0","type":"quantitative","scale":{"domain":[0,126],"range":[581.7,432],"nice":false},"axis":{"title":null,"orient":"right","offset":-560,"labels":false,"tickSize":-3,"values":[5,10,15,20,25,30,35,40,45,50,55,60,65,70,75,80,85,90,95,100,105,110,115,120,125]}},"y2":{"field":"y1"}}},
{"data":{"name":"frame_a3"},"mark":{"type":"point","opacity":0},"encoding":{"x":{"field":"x0","type":"quantitative","scale":{"domain":[0,12],"range":[107.3,349],"nice":false},"axis":{"title":null,"orient":"top","offset":-432,"labels":false,"tickSize":-6,"values":[0,2.4,4.8,7.2,9.6,12]}},"y":{"field":"y0","type":"quantitative","scale":{"domain":[0,126],"range":[581.7,432],"nice":false},"axis":{"title":null,"orient":"left","offset":-107.3,"labels":false,"tickSize":-3,"values":[5,10,15,25,30,35,45,50,55,65,70,75,85,90,95,105,110,115,125]}}}},
{"data":{"values":[{"label":"OT","month":13.9,"count":62.8}]},"mark":{"type":"text"},"encoding":{"x":{"field":"month","type":"quantitative","scale":{"domain":[0,12],"range":[107.3,349],"nice":false},"axis":null},"y":{"field":"count","type":"quantitative","scale":{"domain":[0,126],"range":[581.7,432],"nice":false},"axis":null},"text":{"field":"label"}}},

{"projection":{"type":"equirectangular","scale":477.465,"translate":[-171.667,495.833]},"layer":[
{"data":{"name":"china"},"mark":{"type":"geoshape","fill":"#939598","stroke":"#939598","strokeWidth":1},"encoding":{}},
{"data":{"name":"pts_nc"},"mark":{"type":"circle","color":"#8e2a8e","size":30,"opacity":1},"encoding":{"longitude":{"field":"lon","type":"quantitative"},"latitude":{"field":"lat","type":"quantitative"}}},
{"data":{"name":"pts_sc"},"mark":{"type":"circle","color":"#dedc1e","size":32,"opacity":1},"encoding":{"longitude":{"field":"lon","type":"quantitative"},"latitude":{"field":"lat","type":"quantitative"}}},
{"data":{"name":"arrows"},"mark":{"type":"line","color":"#231f20","strokeWidth":5,"interpolate":"cardinal"},"encoding":{"longitude":{"field":"lon","type":"quantitative"},"latitude":{"field":"lat","type":"quantitative"},"detail":{"field":"arrow"},"order":{"field":"i","type":"quantitative"}}},
{"data":{"name":"heads"},"mark":{"type":"geoshape","fill":"#111","stroke":"#111","strokeWidth":1},"encoding":{}},
{"data":{"values":[{"label":"B","lon":72.92,"lat":56.5}]},"mark":{"type":"text","fontWeight":"bold"},"encoding":{"longitude":{"field":"lon","type":"quantitative"},"latitude":{"field":"lat","type":"quantitative"},"text":{"field":"label"}}}
]},

{"data":{"name":"pers_sc"},"mark":{"type":"rect","fill":"#dedc1e","fillOpacity":0.5,"stroke":"#555","strokeOpacity":0.7,"strokeWidth":1.5},"encoding":{"x":{"field":"m0","type":"quantitative","scale":{"type":"log","domain":[0.191,54],"range":[538.5,839.8],"nice":false},"axis":{"title":null,"orient":"bottom","offset":-740.3,"domain":true,"tickSize":-5,"labelFont":"Liberation Serif","labelFontSize":22,"labelColor":"#111","labelPadding":18,"values":[1,2,3,4,5,6,7,8,9,10,11,12,24,36,48],"labelExpr":"datum.value==1?'1m':datum.value==3?'3m':datum.value==6?'6m':datum.value==12?'1y':datum.value==24?'2y':datum.value==48?'4y':''"}},"x2":{"field":"m1"},"y":{"field":"p","type":"quantitative","scale":{"domain":[0,15],"range":[546.7,399.3],"nice":false},"axis":{"title":"tip frequency","orient":"left","titleFont":"Liberation Serif","titleFontSize":24,"titleFontWeight":"normal","titleColor":"#111","titlePadding":32,"offset":-538.5,"domain":true,"labelFontSize":22,"labelPadding":17,"values":[0,1,2,3,4,5,6,7,8,9,10,11,12,13,14,15],"labelExpr":"datum.value>0&&datum.value%5==0?datum.value+'%':''"}},"y2":{"datum":0}}},
{"data":{"name":"pers_nc"},"mark":{"type":"rect","fill":"#8e2a8e","fillOpacity":0.6,"stroke":"#555","strokeOpacity":0.7,"strokeWidth":1.5},"encoding":{"x":{"field":"m0","type":"quantitative","scale":{"type":"log","domain":[0.191,54],"range":[538.5,839.8],"nice":false},"axis":null},"x2":{"field":"m1"},"y":{"field":"p","type":"quantitative","scale":{"domain":[0,15],"range":[546.7,399.3],"nice":false},"axis":null},"y2":{"datum":0}}},
{"data":{"values":[{"label":"local persistence","month":3.03,"pct":18.9}]},"mark":{"type":"text","fontSize":24},"encoding":{"x":{"field":"month","type":"quantitative","scale":{"type":"log","domain":[0.191,54],"range":[538.5,839.8],"nice":false},"axis":null},"y":{"field":"pct","type":"quantitative","scale":{"domain":[0,15],"range":[546.7,399.3],"nice":false},"axis":null},"text":{"field":"label"}}},
{"data":{"values":[{"label":"C","month":0.0331,"pct":18.9}]},"mark":{"type":"text","fontWeight":"bold"},"encoding":{"x":{"field":"month","type":"quantitative","scale":{"type":"log","domain":[0.191,54],"range":[538.5,839.8],"nice":false},"axis":null},"y":{"field":"pct","type":"quantitative","scale":{"domain":[0,15],"range":[546.7,399.3],"nice":false},"axis":null},"text":{"field":"label"}}},

{"data":{"name":"sc_nc"},"encoding":{"x":{"field":"t","type":"quantitative","scale":{"domain":[0,12],"range":[401.5,627.5],"nice":false},"axis":null}},"layer":[{"mark":{"type":"area","color":"#cdcae5","interpolate":"monotone"},"encoding":{"y":{"field":"hi","type":"quantitative","scale":{"domain":[0.1,9.93],"range":[891,744],"nice":false},"axis":null},"y2":{"field":"lo"}}},{"mark":{"type":"area","color":"#afa9d4","interpolate":"monotone"},"encoding":{"y":{"field":"ih","type":"quantitative","scale":{"domain":[0.1,9.93],"range":[891,744],"nice":false},"axis":null},"y2":{"field":"lo"}}},{"mark":{"type":"line","color":"#231f20","strokeWidth":4.5,"interpolate":"monotone"},"encoding":{"y":{"field":"v","type":"quantitative","scale":{"domain":[0.1,9.93],"range":[891,744],"nice":false},"axis":null}}}]},
{"data":{"name":"frame_d"},"mark":{"type":"rect","fillOpacity":0,"stroke":"#777","strokeWidth":1.2},"encoding":{"x":{"field":"x0","type":"quantitative","scale":{"domain":[0,12],"range":[401.5,627.5],"nice":false},"axis":{"title":null,"orient":"bottom","offset":-396,"labelPadding":9,"values":[0,1,2,3,4,5,6,7,8,9,10,11,12],"labelExpr":"['J','F','M','A','M','J','J','A','S','O','N','D','J'][datum.value]"}},"x2":{"field":"x1"},"y":{"field":"y0","type":"quantitative","scale":{"domain":[0.1,9.93],"range":[891,744],"nice":false},"axis":{"title":null,"orient":"left","offset":-401.5,"values":[2,4,6,8]}},"y2":{"field":"y1"}}},
{"data":{"name":"frame_d"},"mark":{"type":"point","opacity":0},"encoding":{"x":{"field":"x0","type":"quantitative","scale":{"domain":[0,12],"range":[401.5,627.5],"nice":false},"axis":null},"y":{"field":"y0","type":"quantitative","scale":{"domain":[0.1,9.93],"range":[891,744],"nice":false},"axis":{"title":null,"orient":"left","offset":-401.5,"labels":false,"tickSize":-3.5,"values":[0.5,1,1.5,2.5,3,3.5,4.5,5,5.5,6.5,7,7.5,8.5,9,9.5]}}}},

{"data":{"name":"sc_ot"},"encoding":{"x":{"field":"t","type":"quantitative","scale":{"domain":[0,12],"range":[677.7,905],"nice":false},"axis":null}},"layer":[{"mark":{"type":"area","color":"#cdcae5","interpolate":"monotone"},"encoding":{"y":{"field":"hi","type":"quantitative","scale":{"domain":[0.1,9.93],"range":[891,744],"nice":false},"axis":null},"y2":{"field":"lo"}}},{"mark":{"type":"area","color":"#afa9d4","interpolate":"monotone"},"encoding":{"y":{"field":"ih","type":"quantitative","scale":{"domain":[0.1,9.93],"range":[891,744],"nice":false},"axis":null},"y2":{"field":"lo"}}},{"mark":{"type":"line","color":"#231f20","strokeWidth":4.5,"interpolate":"monotone"},"encoding":{"y":{"field":"v","type":"quantitative","scale":{"domain":[0.1,9.93],"range":[891,744],"nice":false},"axis":null}}}]},
{"data":{"name":"frame_d"},"mark":{"type":"rect","fillOpacity":0,"stroke":"#777","strokeWidth":1.2},"encoding":{"x":{"field":"x0","type":"quantitative","scale":{"domain":[0,12],"range":[677.7,905],"nice":false},"axis":{"title":null,"orient":"bottom","offset":-396,"labelPadding":9,"values":[0,1,2,3,4,5,6,7,8,9,10,11,12],"labelExpr":"['J','F','M','A','M','J','J','A','S','O','N','D','J'][datum.value]"}},"x2":{"field":"x1"},"y":{"field":"y0","type":"quantitative","scale":{"domain":[0.1,9.93],"range":[891,744],"nice":false},"axis":{"title":null,"orient":"left","offset":-677.7,"values":[2,4,6,8]}},"y2":{"field":"y1"}}},
{"data":{"name":"frame_d"},"mark":{"type":"point","opacity":0},"encoding":{"x":{"field":"x0","type":"quantitative","scale":{"domain":[0,12],"range":[677.7,905],"nice":false},"axis":null},"y":{"field":"y0","type":"quantitative","scale":{"domain":[0.1,9.93],"range":[891,744],"nice":false},"axis":{"title":null,"orient":"left","offset":-677.7,"labels":false,"tickSize":-3.5,"values":[0.5,1,1.5,2.5,3,3.5,4.5,5,5.5,6.5,7,7.5,8.5,9,9.5]}}}},

{"data":{"name":"nc_ot"},"encoding":{"x":{"field":"t","type":"quantitative","scale":{"domain":[0,12],"range":[677.7,905],"nice":false},"axis":null}},"layer":[{"mark":{"type":"area","color":"#cdcae5","interpolate":"monotone"},"encoding":{"y":{"field":"hi","type":"quantitative","scale":{"domain":[0.1,9.93],"range":[1067.5,928.3],"nice":false},"axis":null},"y2":{"field":"lo"}}},{"mark":{"type":"area","color":"#afa9d4","interpolate":"monotone"},"encoding":{"y":{"field":"ih","type":"quantitative","scale":{"domain":[0.1,9.93],"range":[1067.5,928.3],"nice":false},"axis":null},"y2":{"field":"lo"}}},{"mark":{"type":"line","color":"#231f20","strokeWidth":4.5,"interpolate":"monotone"},"encoding":{"y":{"field":"v","type":"quantitative","scale":{"domain":[0.1,9.93],"range":[1067.5,928.3],"nice":false},"axis":null}}}]},
{"data":{"name":"frame_d"},"mark":{"type":"rect","fillOpacity":0,"stroke":"#777","strokeWidth":1.2},"encoding":{"x":{"field":"x0","type":"quantitative","scale":{"domain":[0,12],"range":[677.7,905],"nice":false},"axis":{"title":null,"orient":"bottom","offset":-219.5,"labelPadding":16,"values":[0,1,2,3,4,5,6,7,8,9,10,11,12],"labelExpr":"['J','F','M','A','M','J','J','A','S','O','N','D','J'][datum.value]"}},"x2":{"field":"x1"},"y":{"field":"y0","type":"quantitative","scale":{"domain":[0.1,9.93],"range":[1067.5,928.3],"nice":false},"axis":{"title":null,"orient":"left","offset":-677.7,"values":[2,4,6,8]}},"y2":{"field":"y1"}}},
{"data":{"name":"frame_d"},"mark":{"type":"point","opacity":0},"encoding":{"x":{"field":"x0","type":"quantitative","scale":{"domain":[0,12],"range":[677.7,905],"nice":false},"axis":null},"y":{"field":"y0","type":"quantitative","scale":{"domain":[0.1,9.93],"range":[1067.5,928.3],"nice":false},"axis":{"title":null,"orient":"left","offset":-677.7,"labels":false,"tickSize":-3.5,"values":[0.5,1,1.5,2.5,3,3.5,4.5,5,5.5,6.5,7,7.5,8.5,9,9.5]}}}},

{"data":{"name":"nc_sc"},"encoding":{"x":{"field":"t","type":"quantitative","scale":{"domain":[0,12],"range":[125,351],"nice":false},"axis":null}},"layer":[{"mark":{"type":"area","color":"#cdcae5","interpolate":"monotone"},"encoding":{"y":{"field":"hi","type":"quantitative","scale":{"domain":[0.1,9.93],"range":[1067.5,928.3],"nice":false},"axis":null},"y2":{"field":"lo"}}},{"mark":{"type":"area","color":"#afa9d4","interpolate":"monotone"},"encoding":{"y":{"field":"ih","type":"quantitative","scale":{"domain":[0.1,9.93],"range":[1067.5,928.3],"nice":false},"axis":null},"y2":{"field":"lo"}}},{"mark":{"type":"line","color":"#231f20","strokeWidth":4.5,"interpolate":"monotone"},"encoding":{"y":{"field":"v","type":"quantitative","scale":{"domain":[0.1,9.93],"range":[1067.5,928.3],"nice":false},"axis":null}}}]},
{"data":{"name":"frame_d"},"mark":{"type":"rect","fillOpacity":0,"stroke":"#777","strokeWidth":1.2},"encoding":{"x":{"field":"x0","type":"quantitative","scale":{"domain":[0,12],"range":[125,351],"nice":false},"axis":{"title":null,"orient":"bottom","offset":-219.5,"labelPadding":16,"values":[0,1,2,3,4,5,6,7,8,9,10,11,12],"labelExpr":"['J','F','M','A','M','J','J','A','S','O','N','D','J'][datum.value]"}},"x2":{"field":"x1"},"y":{"field":"y0","type":"quantitative","scale":{"domain":[0.1,9.93],"range":[1067.5,928.3],"nice":false},"axis":{"title":null,"orient":"left","offset":-125,"values":[2,4,6,8]}},"y2":{"field":"y1"}}},
{"data":{"name":"frame_d"},"mark":{"type":"point","opacity":0},"encoding":{"x":{"field":"x0","type":"quantitative","scale":{"domain":[0,12],"range":[125,351],"nice":false},"axis":null},"y":{"field":"y0","type":"quantitative","scale":{"domain":[0.1,9.93],"range":[1067.5,928.3],"nice":false},"axis":{"title":null,"orient":"left","offset":-125,"labels":false,"tickSize":-3.5,"values":[0.5,1,1.5,2.5,3,3.5,4.5,5,5.5,6.5,7,7.5,8.5,9,9.5]}}}},

{"data":{"name":"ot_sc"},"encoding":{"x":{"field":"t","type":"quantitative","scale":{"domain":[0,12],"range":[125,351],"nice":false},"axis":null}},"layer":[{"mark":{"type":"area","color":"#cdcae5","interpolate":"monotone"},"encoding":{"y":{"field":"hi","type":"quantitative","scale":{"domain":[0.1,9.93],"range":[1252,1112],"nice":false},"axis":null},"y2":{"field":"lo"}}},{"mark":{"type":"area","color":"#afa9d4","interpolate":"monotone"},"encoding":{"y":{"field":"ih","type":"quantitative","scale":{"domain":[0.1,9.93],"range":[1252,1112],"nice":false},"axis":null},"y2":{"field":"lo"}}},{"mark":{"type":"line","color":"#231f20","strokeWidth":4.5,"interpolate":"monotone"},"encoding":{"y":{"field":"v","type":"quantitative","scale":{"domain":[0.1,9.93],"range":[1252,1112],"nice":false},"axis":null}}}]},
{"data":{"name":"frame_d"},"mark":{"type":"rect","fillOpacity":0,"stroke":"#777","strokeWidth":1.2},"encoding":{"x":{"field":"x0","type":"quantitative","scale":{"domain":[0,12],"range":[125,351],"nice":false},"axis":{"title":null,"orient":"bottom","offset":-35,"labelPadding":18,"values":[0,1,2,3,4,5,6,7,8,9,10,11,12],"labelExpr":"['J','F','M','A','M','J','J','A','S','O','N','D','J'][datum.value]"}},"x2":{"field":"x1"},"y":{"field":"y0","type":"quantitative","scale":{"domain":[0.1,9.93],"range":[1252,1112],"nice":false},"axis":{"title":null,"orient":"left","offset":-125,"values":[2,4,6,8]}},"y2":{"field":"y1"}}},
{"data":{"name":"frame_d"},"mark":{"type":"point","opacity":0},"encoding":{"x":{"field":"x0","type":"quantitative","scale":{"domain":[0,12],"range":[125,351],"nice":false},"axis":null},"y":{"field":"y0","type":"quantitative","scale":{"domain":[0.1,9.93],"range":[1252,1112],"nice":false},"axis":{"title":null,"orient":"left","offset":-125,"labels":false,"tickSize":-3.5,"values":[0.5,1,1.5,2.5,3,3.5,4.5,5,5.5,6.5,7,7.5,8.5,9,9.5]}}}},

{"encoding":{"x":{"field":"col","type":"quantitative","scale":{"domain":[0,2],"range":[222,776],"nice":false},"axis":null},"y":{"field":"row","type":"quantitative","scale":{"domain":[0,2],"range":[829,1196],"nice":false},"axis":null}},"layer":[
{"data":{"values":[{"col":-0.69,"col2":2.47,"row":-0.496}]},"mark":{"type":"rule","color":"#111","strokeWidth":3.5},"encoding":{"x2":{"field":"col2"}}},
{"data":{"values":[{"col":-0.495,"row":-0.73,"row2":2.5}]},"mark":{"type":"rule","color":"#000","strokeWidth":7,"strokeCap":"round"},"encoding":{"y2":{"field":"row2"}}},
{"data":{"values":[{"label":"to SC","col":0,"row":-0.638},{"label":"to NC","col":1,"row":-0.638},{"label":"to OT","col":2,"row":-0.638}]},"mark":{"type":"text"},"encoding":{"text":{"field":"label"}}},
{"data":{"values":[{"label":"from","col":-0.682,"row":-0.087},{"label":"SC","col":-0.682,"row":0.087},{"label":"from","col":-0.682,"row":0.905},{"label":"NC","col":-0.682,"row":1.095},{"label":"from","col":-0.682,"row":1.907},{"label":"OT","col":-0.682,"row":2.098}]},"mark":{"type":"text","align":"left"},"encoding":{"text":{"field":"label"}}},
{"data":{"values":[{"label":"D","col":-0.736,"row":-0.937}]},"mark":{"type":"text","fontWeight":"bold"},"encoding":{"text":{"field":"label"}}},
{"data":{"values":[{"label":"migrations per year","col":0.9,"row":-0.92}]},"mark":{"type":"text","fontWeight":"bold","fontSize":24.5},"encoding":{"text":{"field":"label"}}}
]}
]}
